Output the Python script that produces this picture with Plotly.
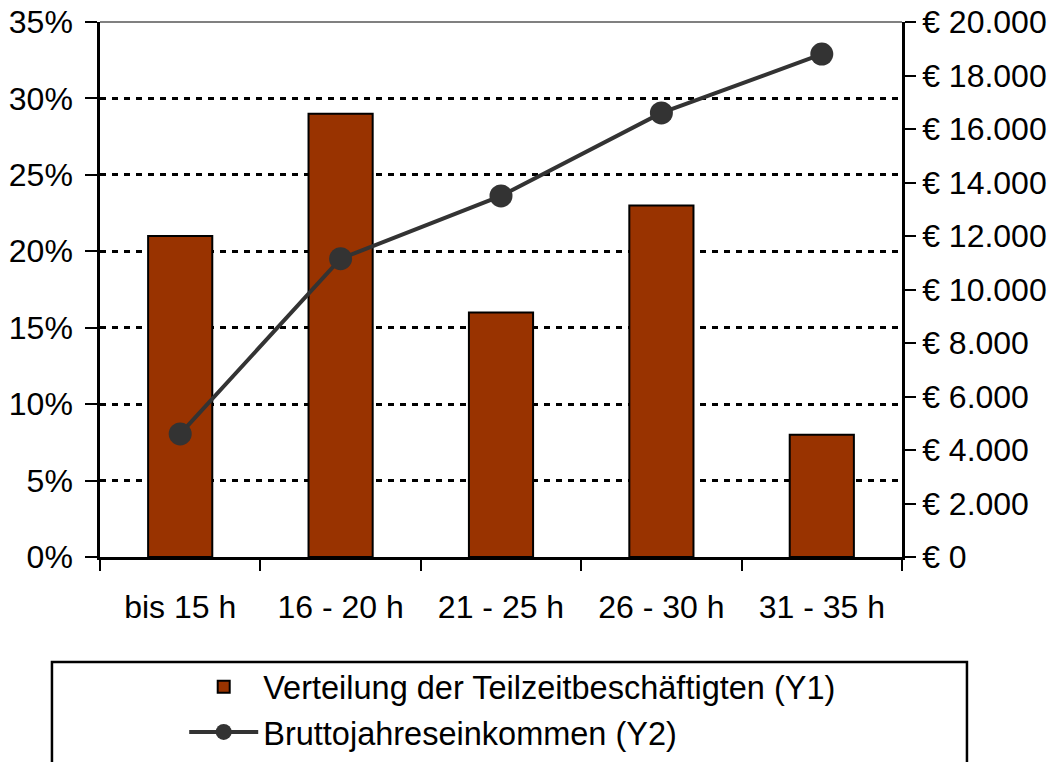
import plotly.graph_objects as go

categories = ["bis 15 h", "16 - 20 h", "21 - 25 h", "26 - 30 h", "31 - 35 h"]
share_pct = [21, 29, 16, 23, 8]
income_eur = [4600, 11150, 13500, 16600, 18800]
bar_name = "Verteilung der Teilzeitbeschäftigten (Y1)"
line_name = "Bruttojahreseinkommen (Y2)"

FONT = "Liberation Sans, Arial, sans-serif"

fig = go.Figure()
fig.add_trace(go.Bar(
    x=categories, y=share_pct, name=bar_name,
    marker=dict(color="#993300", line=dict(color="black", width=2)),
    width=0.4, legendgroup="a", yaxis="y",
))
fig.add_trace(go.Scatter(
    x=categories, y=income_eur, name=line_name, mode="lines+markers",
    line=dict(color="#333333", width=4),
    marker=dict(color="#333333", size=23),
    legendgroup="b", yaxis="y2",
))

fig.update_layout(
    width=1059, height=762,
    margin=dict(l=100, r=157, t=22, b=205, autoexpand=False),
    paper_bgcolor="white", plot_bgcolor="white",
    font=dict(family=FONT, size=32, color="black"),
    separators=",.",
    showlegend=True,
    legend=dict(
        x=0.105, y=-0.1907, xanchor="left", yanchor="top",
        orientation="v", bgcolor="rgba(0,0,0,0)", borderwidth=0,
        font=dict(size=32.5), itemwidth=69, tracegroupgap=21,
        traceorder="normal",
    ),
    xaxis=dict(
        showline=True, linecolor="black", linewidth=2.5,
        ticks="outside", ticklen=11, tickwidth=2, tickcolor="black",
        tickson="boundaries", showgrid=False, zeroline=False,
        automargin=False, ticklabelstandoff=20, ticklabeloverflow="allow",
    ),
    yaxis=dict(
        range=[0, 35], dtick=5, ticksuffix="%",
        showline=True, linecolor="black", linewidth=2.5,
        ticks="outside", ticklen=12, tickwidth=2, tickcolor="black",
        showgrid=True, gridcolor="black", gridwidth=2.5, griddash="6px,6px",
        zeroline=False, automargin=False, ticklabelstandoff=6,
        ticklabeloverflow="allow",
    ),
    yaxis2=dict(
        range=[0, 20000], dtick=2000, tickprefix="€ ", tickformat=",d",
        overlaying="y", side="right",
        showline=True, linecolor="black", linewidth=2.5,
        ticks="outside", ticklen=11, tickwidth=2, tickcolor="black",
        showgrid=False, zeroline=False, automargin=False,
        ticklabeloverflow="allow",
    ),
    yaxis3=dict(
        range=[0, 20000], dtick=2000, overlaying="y", side="right",
        showticklabels=False, showline=False,
        ticks="inside", ticklen=10, tickwidth=2, tickcolor="black",
        showgrid=False, zeroline=False, automargin=False,
    ),
    shapes=[
        dict(type="line", xref="paper", yref="paper", x0=0, x1=1, y0=1, y1=1,
             line=dict(color="#808080", width=2), layer="below"),
        dict(type="rect", xref="paper", yref="paper",
             x0=-0.0599, x1=1.0810, y0=-0.1963, y1=-0.42,
             line=dict(color="black", width=2.5), fillcolor="rgba(0,0,0,0)"),
    ],
)

fig.write_html("out.html", config={"displayModeBar": False},
               post_script="document.body.style.margin='0';")
